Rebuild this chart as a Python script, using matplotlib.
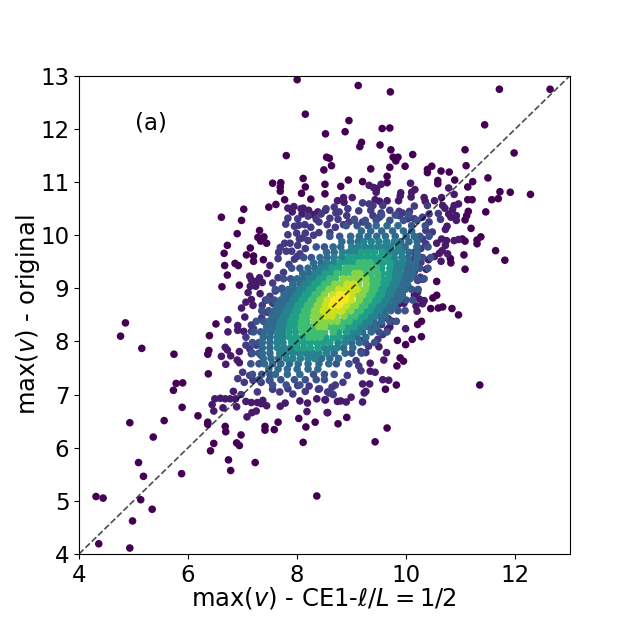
import matplotlib
matplotlib.use('Agg')
import matplotlib.pyplot as plt
import numpy as np

# points, grouped by the colour they have there
outer_00 = [(8.0,12.93),(8.15,12.28),(8.52,11.91),(7.8,11.5),(8.54,11.47),(8.59,11.45),(8.49,11.23),(8.11,11.07),(7.55,10.98),(7.7,10.99),(7.69,10.91),(7.69,10.83),(8.15,10.91),(8.08,10.79),(8.51,10.96),(8.51,10.78),(7.77,10.67),(8.25,10.68),(7.48,10.53),(7.61,10.58),(7.02,10.49),(6.61,10.34),(6.98,10.28),(7.31,10.09),(6.9,10.03),(7.28,9.96),(7.39,9.97),(7.33,9.89),(7.44,9.85),(6.72,9.81),(7.14,9.76),(6.66,9.66),(7.07,9.63),(7.2,9.61),(7.2,9.51),(7.38,9.54),(6.67,9.43),(6.86,9.47),(6.92,9.43),(6.72,9.25),(6.62,9.03),(6.94,9.06),
    (9.12,12.82),(9.71,12.7),(11.71,12.75),(12.64,12.75),(8.95,12.16),(11.44,12.08),(8.88,11.95),(9.56,12.01),(9.7,12.02),(9.18,11.75),(9.15,11.67),(9.52,11.7),(9.72,11.61),(11.08,11.61),(11.98,11.55),(10.12,11.52),(9.76,11.47),(9.85,11.47),(9.81,11.4),(8.63,11.31),(11.1,11.31),(9.7,11.28),(9.98,11.3),(10.47,11.3),(9.35,11.25),(10.39,11.24),(10.39,11.18),(10.64,11.21),(10.79,11.19),(9.65,11.11),(11.5,11.08),(8.94,11.04),(9.2,11.01),(9.65,10.99),(10.58,11.03),(10.58,10.97),(10.89,11.04),(11.22,11.01),(8.8,10.92),(11.13,10.91),(11.72,10.82),(11.91,10.81),(12.28,10.77),(11.13,10.67),(11.21,10.67),(11.57,10.67),(11.69,10.69),(11.46,10.44),(11.14,10.45),(11.11,10.37),(11.08,10.29),(11.19,10.13),(11.37,9.97),(11.3,9.91),(11.3,9.84),(11.03,9.93),(11.08,9.89),(11.06,9.63),(11.64,9.71),(11.81,9.53),(10.81,9.56),(10.82,9.48),(11.08,9.36),(10.56,9.13),(10.84,8.62),(10.96,8.5),(10.45,8.62),(10.59,8.63),(10.67,8.65),(10.49,8.82),(10.56,8.87),
    (4.85,8.35),(4.76,8.1),(5.15,7.87),(5.74,7.76),(6.51,8.33),(6.39,8.11),(6.38,7.83),(6.36,7.76),(6.37,7.39),(5.78,7.21),(5.9,7.22),(5.73,7.08),(5.89,6.76),(4.93,6.47),(5.56,6.51),(6.18,6.6),(6.36,6.48),(6.36,6.44),(5.36,6.2),(5.09,5.72),(5.18,5.46),(5.88,5.51),(4.31,5.08),(4.44,5.05),(5.13,5.02),(5.34,4.84),(4.98,4.62),(4.36,4.19),(4.93,4.11),(6.68,6.4),(6.69,6.3),(6.97,6.24),(6.47,6.08),(6.89,6.09),(6.94,6.04),(6.41,5.94),(6.74,5.77),(6.78,5.57),(7.23,5.72),(8.11,6.1),(8.36,5.09),(7.41,6.4),(7.41,6.33),(7.58,6.34),(7.65,6.48),(8.03,6.55),(8.33,6.48),(8.16,6.39),(8.91,6.57),(8.75,6.45),(8.56,6.66),(9.65,6.37),(9.43,6.11),(11.35,7.18),(9.82,7.18),(9.62,7.1),(9.83,7.54),(9.95,7.63),(9.89,7.69),(9.84,8.02),(9.99,7.94),(10.11,8.04),(10.28,8.09),(10.21,8.32),(10.28,8.38)]

outer_08 = [(7.83,10.51),(7.94,10.54),(7.91,10.44),(8.07,10.5),(8.11,10.51),(8.09,10.4),(8.21,10.47),(8.29,10.39),(8.38,10.44),(8.52,10.47),(7.5,9.43),(7.13,9.23),(7.16,9.16),(7.31,9.2),(7.25,9.13),(7.14,9.04),(7.24,9.04),(7.36,9.11),(7.45,9.28),(7.1,8.92),(7.06,8.74),(7.16,8.79),(6.98,8.63),(7.19,8.68),(7.32,8.9),
    (9.4,10.9),(9.32,10.94),(9.54,10.96),(9.46,10.88),(9.45,10.81),(10.08,10.98),(10.16,10.86),(10.1,10.81),(10.78,10.89),(10.88,10.77),(9.9,10.8),(9.89,10.74),(9.01,10.71),(8.74,10.65),(8.85,10.71),(8.86,10.62),(9.43,10.67),(9.51,10.64),(9.65,10.65),(9.86,10.65),(10.09,10.72),(10.33,10.71),(10.35,10.64),(10.52,10.65),(10.65,10.71),(10.71,10.51),(10.67,10.56),(10.96,10.59),(10.88,10.56),(10.85,10.48),(10.78,10.4),(10.92,10.37),(10.82,10.34),(10.92,10.28),(10.75,10.17),(10.72,10.11),(10.88,9.9),(10.96,9.92),(10.56,9.85),(10.65,9.93),(10.74,9.9),(10.72,9.81),(10.66,9.71),(10.61,9.66),(10.76,9.65),(10.52,9.6),(10.64,9.51),(10.41,9.54),(10.37,9.36),(10.21,8.93),(10.15,8.87),(10.24,8.8),(10.33,8.77),(10.3,8.71),(10.18,8.67),(10.2,8.57),(9.87,8.71),(9.96,8.72),
    (6.73,8.41),(7.04,8.46),(6.73,8.18),(6.91,8.3),(6.91,8.21),(7.02,8.19),(6.68,7.89),(6.72,7.84),(6.61,7.72),(6.78,7.73),(6.94,7.81),(6.9,7.65),(6.94,7.6),(6.69,7.57),(6.83,7.06),(6.49,6.92),(6.59,6.93),(6.68,6.92),(6.77,6.92),(6.87,6.92),(6.44,6.81),(6.64,6.75),(6.89,6.77),(6.47,6.69),(7.08,6.58),(7.17,6.66),(7.25,6.69),(7.06,6.87),(7.16,6.85),(7.27,6.85),(7.37,6.89),(7.44,6.79),(7.34,6.83),(7.69,6.78),(7.78,6.84),(8.05,6.88),(8.19,6.84),(8.18,6.68),(8.36,6.92),(8.52,6.9),(8.55,6.66),(9.2,6.86),(8.99,6.95),(8.9,6.86),(8.8,6.88),(8.74,6.87),(8.51,6.9),(9.26,7.06),(9.23,7.03),(9.57,7.28),(9.68,7.27),(9.33,7.2),(9.2,7.2),(9.34,7.44),(9.43,7.42),(9.34,7.59),(9.59,7.65),(9.64,7.79),(9.5,7.9),(9.99,8.24),(9.66,8.23),(9.7,8.27),(9.74,8.38),(9.67,8.43)]

outer_15 = [(7.83,10.32),(7.79,10.21),(7.95,10.17),(8.03,10.19),(8.14,10.2),(8.01,10.31),(8.2,10.36),(7.83,10.01),(7.69,9.77),(7.66,9.68),(7.65,9.56),(7.77,9.85),(7.87,9.85),(7.8,9.7),(7.99,10.04),(8.15,10.04),(8.04,9.93),(8.01,9.81),(7.36,8.68),
    (8.53,10.5),(8.68,10.53),(8.77,10.44),(8.71,10.42),(8.93,10.5),(9.13,10.46),(8.91,10.37),(9.2,10.61),(9.32,10.59),(9.39,10.56),(9.35,10.47),(9.57,10.56),(9.54,10.42),(9.7,10.47),(9.87,10.45),(9.93,10.42),(10.06,10.45),(9.87,10.37),(10.03,10.31),(10.15,10.31),(10.15,10.55),(10.3,10.34),(10.42,10.4),(10.39,10.56),(10.42,10.25),(8.6,10.32),(8.44,10.4),(9.39,10.37),(9.51,10.34),(10.59,10.41),(10.63,10.3),
    (10.48,10.06),(10.36,10.09),(10.3,9.93),(10.36,9.84),(10.27,9.75),(10.24,9.59),(10.15,9.68),(10.27,9.49),(10.15,9.56),(10.09,9.37),(10.03,9.4),(10.15,9.31),(10.06,9.18),(9.96,9.46),(10.26,9.21),(10.21,9.15),(10.3,9.17),(10.03,9.05),
    (7.16,8.31),(7.16,8.19),(7.2,8.24),(7.06,8.08),(7.06,7.93),(7.13,7.86),(7.16,7.77),(7.25,7.93),(7.34,7.74),(6.91,7.3),(7.0,7.42),(7.13,7.36),(7.03,7.23),(7.19,7.27),(7.34,7.23),(7.49,7.27),(6.97,7.0),(7.27,7.05),
    (7.83,7.11),(7.92,7.01),(7.68,7.05),(7.55,7.1),(8.01,7.17),(8.22,7.16),(8.15,7.06),(8.39,7.1),(8.56,7.05),(8.7,7.18),(8.64,7.14),(8.84,7.23),(8.58,7.03),(8.66,7.0),(8.41,7.11),(8.92,7.36),(9.17,7.45),(9.13,7.54),(9.08,7.64),(9.26,7.79),(9.17,7.81),(9.31,7.91),(9.2,8.02),(9.48,8.04),(9.57,8.13),(9.45,8.3),(9.55,8.32),(9.41,8.36),(9.38,8.23),
    (7.65,9.2),(7.55,9.1),(7.6,8.95),(7.75,9.3),(7.85,9.45),(7.72,9.0),(7.5,8.85),(7.42,8.78),(7.55,8.72),(7.7,8.75),(7.45,8.55),(7.6,8.55),(7.35,8.45),(7.5,8.35),(7.95,9.55),(8.05,9.65),(7.9,9.7),(8.0,9.6),(8.15,9.75),(8.2,9.9),(8.1,9.95),(8.3,10.0),(8.25,10.15),(8.4,10.05),(8.4,10.25),(8.55,10.2),(8.6,10.05),(8.7,10.15),(8.75,10.3),(8.85,10.2),(8.95,10.25),(9.05,10.3),(9.2,10.25),(8.35,10.3)]

rim_22 = [(7.45,8.78),(7.58,8.78),(10.0,8.78),(10.12,8.78),(7.6,8.98),(7.72,8.98),(10.1,8.98),(10.22,8.98),(7.35,8.58),(7.48,8.58),(9.85,8.58),(9.98,8.58),(7.75,9.18),(7.88,9.18),(10.2,9.18),(10.33,9.18),(7.25,8.38),(7.38,8.38),(9.7,8.38),(9.82,8.38),(7.9,9.38),(8.05,9.38),(10.25,9.38),(10.4,9.38),(7.2,8.18),(7.33,8.18),(9.5,8.18),(9.65,8.18),(8.12,9.58),(8.26,9.58),(10.3,9.58),(10.45,9.58),(7.18,7.98),(7.3,7.98),(9.25,7.98),(9.42,7.98),(8.35,9.78),(8.5,9.78),(10.2,9.78),(10.4,9.78),(7.18,7.78),(7.3,7.78),(9.0,7.78),(9.18,7.78),(8.6,9.98),(8.78,9.98),(10.25,9.98),(10.42,9.98),(7.15,7.58),(7.3,7.58),(8.72,7.58),(8.95,7.58),(8.9,10.18),(9.1,10.18),(9.3,10.18),(10.1,10.18),(10.35,10.18),(7.18,7.38),(7.35,7.38),(7.5,7.38),(8.3,7.38),(8.5,7.38),(8.68,7.38),(9.05,10.28),(9.25,10.28),(9.45,10.28),(9.7,10.28),(9.95,10.28),(10.2,10.28),(7.3,7.28),(7.5,7.28),(7.7,7.28),(7.95,7.28),(8.15,7.28),(8.35,7.28),(8.5,7.28),(9.55,10.38),(9.8,10.38),(10.05,10.38),(7.55,7.18),(7.8,7.18),(8.05,7.18)]

band_30 = [(7.7,8.78),(7.82,8.78),(9.76,8.78),(9.87,8.78),(7.76,8.88),(7.88,8.88),(9.8,8.88),(9.93,8.88),(7.64,8.68),(7.75,8.68),(9.67,8.68),(9.79,8.68),(7.84,8.98),(7.95,8.98),(9.86,8.98),(9.98,8.98),(7.58,8.58),(7.7,8.58),(9.6,8.58),(9.72,8.58),(7.92,9.08),(8.05,9.08),(9.9,9.08),(10.02,9.08),(7.54,8.48),(7.66,8.48),(9.5,8.48),(9.62,8.48),(8.0,9.18),(8.12,9.18),(9.94,9.18),(10.07,9.18),(7.48,8.38),(7.6,8.38),(9.4,8.38),(9.55,8.38),(8.1,9.28),(8.22,9.28),(10.0,9.28),(10.12,9.28),(7.44,8.28),(7.56,8.28),(9.3,8.28),(9.45,8.28),(8.2,9.38),(8.33,9.38),(10.02,9.38),(10.15,9.38),(7.4,8.18),(7.52,8.18),(9.2,8.18),(9.36,8.18),(8.3,9.48),(8.44,9.48),(10.05,9.48),(10.17,9.48),(7.38,8.08),(7.5,8.08),(9.1,8.08),(9.26,8.08),(8.42,9.58),(8.55,9.58),(10.04,9.58),(10.2,9.58),(7.36,7.98),(7.5,7.98),(9.0,7.98),(9.14,7.98),(8.54,9.68),(8.68,9.68),(10.05,9.68),(10.2,9.68),(7.36,7.88),(7.5,7.88),(8.85,7.88),(9.02,7.88),(8.66,9.78),(8.8,9.78),(9.98,9.78),(10.2,9.78),(7.36,7.78),(7.5,7.78),(8.68,7.78),(8.88,7.78),(8.82,9.88),(8.98,9.88),(9.12,9.88),(9.9,9.88),(10.05,9.88),(10.2,9.88),(7.38,7.68),(7.52,7.68),(7.66,7.68),(8.45,7.68),(8.6,7.68),(8.76,7.68),(8.98,9.98),(9.14,9.98),(9.3,9.98),(9.46,9.98),(9.62,9.98),(9.8,9.98),(10.0,9.98),(10.15,9.98),(7.4,7.58),(7.55,7.58),(7.7,7.58),(7.86,7.58),(8.02,7.58),(8.2,7.58),(8.4,7.58),(8.58,7.58),(9.18,10.08),(9.35,10.08),(9.55,10.08),(9.75,10.08),(9.95,10.08),(10.1,10.08),(7.48,7.48),(7.65,7.48),(7.82,7.48),(8.0,7.48),(8.2,7.48),(8.38,7.48),(9.45,10.18),(9.65,10.18),(9.85,10.18),(7.6,7.38),(7.82,7.38),(8.05,7.38)]

band_40 = [(7.92,8.78),(8.0,8.78),(9.56,8.78),(9.64,8.78),(7.98,8.88),(8.06,8.88),(9.63,8.88),(9.71,8.88),(7.85,8.68),(7.94,8.68),(9.47,8.68),(9.58,8.68),(8.05,8.98),(8.14,8.98),(9.67,8.98),(9.76,8.98),(7.8,8.58),(7.88,8.58),(9.42,8.58),(9.5,8.58),(8.14,9.08),(8.23,9.08),(9.72,9.08),(9.81,9.08),(7.75,8.48),(7.83,8.48),(9.33,8.48),(9.42,8.48),(8.23,9.18),(8.32,9.18),(9.76,9.18),(9.85,9.18),(7.7,8.38),(7.79,8.38),(9.24,8.38),(9.32,8.38),(8.33,9.28),(8.43,9.28),(9.78,9.28),(9.88,9.28),(7.67,8.28),(7.76,8.28),(9.13,8.28),(9.23,8.28),(8.43,9.38),(8.53,9.38),(9.8,9.38),(9.9,9.38),(7.64,8.18),(7.74,8.18),(9.02,8.18),(9.12,8.18),(8.55,9.48),(8.67,9.48),(9.82,9.48),(9.93,9.48),(7.63,8.08),(7.74,8.08),(8.9,8.08),(9.0,8.08),(8.68,9.58),(8.82,9.58),(9.78,9.58),(9.92,9.58),(7.63,7.98),(7.74,7.98),(8.75,7.98),(8.88,7.98),(8.83,9.68),(8.95,9.68),(9.07,9.68),(9.68,9.68),(9.8,9.68),(9.92,9.68),(7.64,7.88),(7.76,7.88),(7.88,7.88),(8.5,7.88),(8.62,7.88),(8.73,7.88),(9.0,9.78),(9.12,9.78),(9.24,9.78),(9.36,9.78),(9.48,9.78),(9.6,9.78),(9.72,9.78),(9.86,9.78),(7.68,7.78),(7.8,7.78),(7.92,7.78),(8.04,7.78),(8.16,7.78),(8.28,7.78),(8.4,7.78),(8.54,7.78),(9.22,9.88),(9.36,9.88),(9.5,9.88),(9.64,9.88),(9.78,9.88),(7.8,7.68),(7.92,7.68),(8.06,7.68),(8.2,7.68),(8.32,7.68)]

band_50 = [(8.08,8.78),(8.17,8.78),(9.33,8.78),(9.42,8.78),(9.48,8.78),(8.15,8.88),(8.24,8.88),(9.46,8.88),(9.55,8.88),(8.02,8.68),(8.11,8.68),(9.28,8.68),(9.38,8.68),(8.23,8.98),(8.32,8.98),(9.48,8.98),(9.58,8.98),(7.97,8.58),(8.06,8.58),(9.22,8.58),(9.33,8.58),(8.32,9.08),(8.4,9.08),(9.53,9.08),(9.63,9.08),(7.92,8.48),(8.0,8.48),(9.13,8.48),(9.24,8.48),(8.41,9.18),(8.5,9.18),(9.55,9.18),(9.67,9.18),(7.88,8.38),(7.98,8.38),(9.03,8.38),(9.14,8.38),(8.52,9.28),(8.62,9.28),(9.56,9.28),(9.68,9.28),(7.86,8.28),(7.96,8.28),(8.93,8.28),(9.04,8.28),(8.64,9.38),(8.76,9.38),(9.55,9.38),(9.7,9.38),(7.85,8.18),(7.97,8.18),(8.76,8.18),(8.9,8.18),(8.78,9.48),(8.9,9.48),(9.02,9.48),(9.45,9.48),(9.57,9.48),(9.7,9.48),(7.86,8.08),(7.98,8.08),(8.1,8.08),(8.52,8.08),(8.66,8.08),(8.78,8.08),(8.94,9.58),(9.05,9.58),(9.16,9.58),(9.28,9.58),(9.4,9.58),(9.52,9.58),(9.66,9.58),(7.9,7.98),(8.0,7.98),(8.12,7.98),(8.24,7.98),(8.36,7.98),(8.48,7.98),(8.6,7.98),(9.18,9.68),(9.3,9.68),(9.42,9.68),(9.56,9.68),(8.0,7.88),(8.12,7.88),(8.24,7.88),(8.38,7.88)]

band_62 = [(8.26,8.78),(8.35,8.78),(9.22,8.78),(9.31,8.78),(8.33,8.88),(8.42,8.88),(9.27,8.88),(9.37,8.88),(8.19,8.68),(8.28,8.68),(9.16,8.68),(9.24,8.68),(8.41,8.98),(8.5,8.98),(9.33,8.98),(9.42,8.98),(8.14,8.58),(8.23,8.58),(9.07,8.58),(9.16,8.58),(8.5,9.08),(8.6,9.08),(9.37,9.08),(9.46,9.08),(8.1,8.48),(8.2,8.48),(8.97,8.48),(9.06,8.48),(8.6,9.18),(8.7,9.18),(9.37,9.18),(9.48,9.18),(8.08,8.38),(8.18,8.38),(8.84,8.38),(8.95,8.38),(8.73,9.28),(8.84,9.28),(8.95,9.28),(9.25,9.28),(9.36,9.28),(9.48,9.28),(8.07,8.28),(8.18,8.28),(8.29,8.28),(8.6,8.28),(8.71,8.28),(8.82,8.28),(8.89,9.38),(9.0,9.38),(9.1,9.38),(9.21,9.38),(9.32,9.38),(9.45,9.38),(8.1,8.18),(8.2,8.18),(8.3,8.18),(8.4,8.18),(8.5,8.18),(8.66,8.18),(9.14,9.48),(9.24,9.48),(9.34,9.48),(8.22,8.08),(8.32,8.08),(8.42,8.08)]

band_75 = [(8.42,8.78),(8.46,8.78),(9.14,8.78),(8.5,8.88),(9.11,8.88),(9.2,8.88),(8.37,8.68),(8.43,8.68),(8.98,8.68),(9.07,8.68),(8.58,8.98),(8.66,8.98),(9.15,8.98),(9.25,8.98),(8.32,8.58),(8.4,8.58),(8.88,8.58),(8.98,8.58),(8.69,9.08),(8.8,9.08),(9.12,9.08),(9.27,9.08),(8.3,8.48),(8.42,8.48),(8.72,8.48),(8.86,8.48),(8.84,9.18),(8.95,9.18),(9.05,9.18),(9.16,9.18),(9.26,9.18),(8.32,8.38),(8.42,8.38),(8.52,8.38),(8.62,8.38),(8.73,8.38),(9.06,9.28),(9.15,9.28),(8.4,8.28),(8.5,8.28)]

band_88 = [(8.55,8.78),(8.99,8.78),(8.65,8.88),(9.0,8.88),(8.52,8.68),(8.9,8.68),(8.76,8.98),(8.88,8.98),(9.0,8.98),(9.1,8.98),(8.48,8.58),(8.6,8.58),(8.72,8.58),(8.82,8.58),(8.92,9.08),(9.04,9.08),(8.52,8.48),(8.64,8.48)]

band_97 = [(8.68,8.78),(8.78,8.78),(8.88,8.78),(8.78,8.88),(8.9,8.88),(8.64,8.68),(8.76,8.68)]

bands = [outer_00, outer_08, outer_15, rim_22, band_30, band_40, band_50, band_62, band_75, band_88, band_97]
band_levels = [0.0, 0.07, 0.17, 0.25, 0.34, 0.44, 0.56, 0.69, 0.82, 0.92, 0.99]

x_ticks = [4, 6, 8, 10, 12]
y_ticks = [4, 5, 6, 7, 8, 9, 10, 11, 12, 13]

fig = plt.figure(figsize=(6.33, 6.33), dpi=100)
ax = fig.add_axes([0.125, 0.125, 0.775, 0.755])

for pts, level in zip(bands, band_levels):
    pts = np.array(pts)
    ax.scatter(pts[:, 0], pts[:, 1], c=np.full(len(pts), level), cmap='viridis',
               vmin=0, vmax=1, s=30, linewidths=0)

ax.plot([4, 13], [4, 13], color='k', alpha=0.7, lw=1.2, ls='--')
ax.text(5.02, 12.0, '(a)', fontsize=16.5)

ax.set_xlim(4, 13)
ax.set_ylim(4, 13)
ax.set_xticks(x_ticks)
ax.set_yticks(y_ticks)
ax.tick_params(labelsize=16.5)
ax.set_xlabel(r'max($v$) - CE1-$\ell/L=1/2$', fontsize=17.5, labelpad=-1)
ax.set_ylabel(r'max($v$) - original', fontsize=17.5, labelpad=-1)

fig.savefig('out.png', dpi=100)
